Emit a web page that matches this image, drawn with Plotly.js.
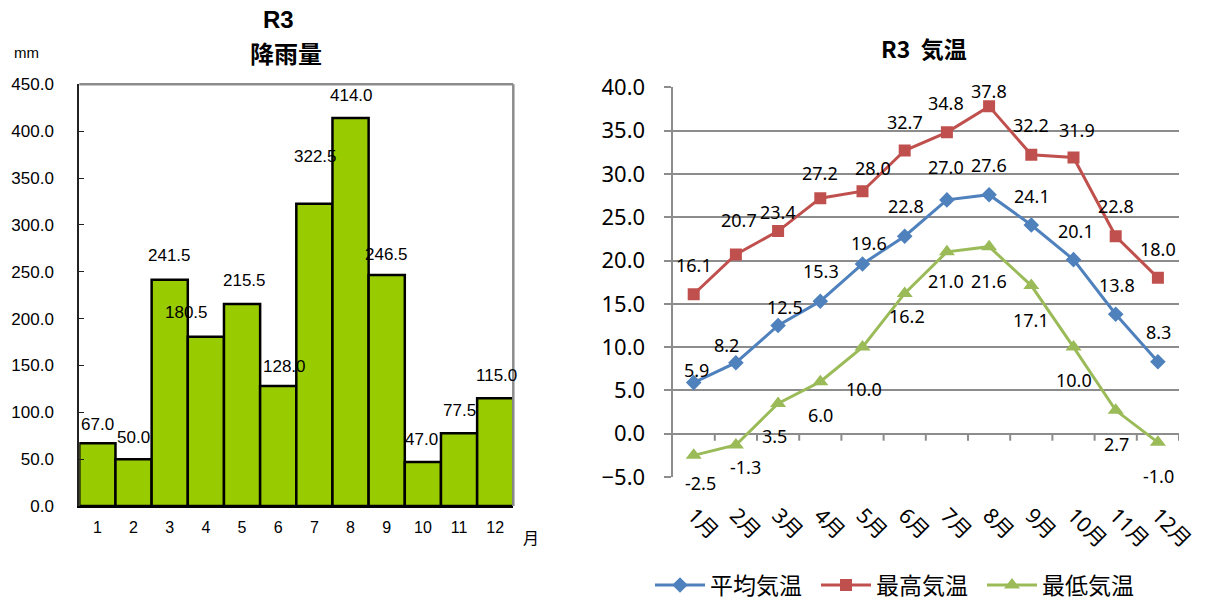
<!DOCTYPE html>
<html>
<head>
<meta charset="utf-8">
<script src="https://cdn.plot.ly/plotly-3.0.1.min.js"></script>
<style>
  html, body { margin: 0; padding: 0; background: #fff; }
  #chart { width: 1210px; height: 601px; }
</style>
</head>
<body>
<div id="chart"></div>
<script>
// ---------- data ----------
const rainMonths = ['1','2','3','4','5','6','7','8','9','10','11','12'];
const rainValues = [67.0, 50.0, 241.5, 180.5, 215.5, 128.0, 322.5, 414.0, 246.5, 47.0, 77.5, 115.0];

const tempMonths = ['1月','2月','3月','4月','5月','6月','7月','8月','9月','10月','11月','12月'];
const tempAvg = [5.9, 8.2, 12.5, 15.3, 19.6, 22.8, 27.0, 27.6, 24.1, 20.1, 13.8, 8.3];
const tempMax = [16.1, 20.7, 23.4, 27.2, 28.0, 32.7, 34.8, 37.8, 32.2, 31.9, 22.8, 18.0];
const tempMin = [-2.5, -1.3, 3.5, 6.0, 10.0, 16.2, 21.0, 21.6, 17.1, 10.0, 2.7, -1.0];

const seriesNames = ['平均気温', '最高気温', '最低気温'];

// ---------- label offsets (pixels) ----------
const rainLabelDx = [0, 0, 0, -19, 2, 6, 1, 1, 0, -1, 0, 1];
const rainLabelDy = [19, 22, 24, 24, 24, 20, 47, 23, 21, 22, 23, 23];
const avgDx = [3, -9, 7, 1, 6, 1, -1, 0, 1, 2, 1, 1];
const avgDy = [13, 18, 18, 30, 21, 30, 33, 30, 29, 29, 29, 30];
const maxDx = [0, 3, 0, 0, 10, 0, -1, 0, 0, 3, 0, 0];
const maxDy = [29, 34, 19, 25, 23, 29, 29, 15, 30, 27, 30, 29];
const minDx = [7, 10, -4, 0, 1, 2, -1, 0, 0, 0, 1, 1];
const minDy = [-28, -22, -33, -33, -42, -23, -29, -34, -34, -33, -34, -34];

// ---------- styles ----------
const W = 1210, H = 601;
const px = x => x / W;
const py = y => 1 - y / H;
const colAvg = '#4F81BD', colMax = '#C0504D', colMin = '#9BBB59';
const grid = '#8c8c8c';
const fLeft = 'Liberation Sans, Arial, sans-serif';
const fRight = 'Noto Sans, Noto Sans CJK JP, sans-serif';
const fCJK = 'Noto Sans CJK JP, sans-serif';

const traces = [
  {
    type: 'bar', x: rainMonths, y: rainValues, xaxis: 'x', yaxis: 'y',
    marker: { color: '#99CC00', line: { color: '#000', width: 2.5 } },
    showlegend: false, hoverinfo: 'skip'
  },
  {
    type: 'scatter', mode: 'lines+markers', name: seriesNames[0],
    x: tempMonths, y: tempAvg, xaxis: 'x2', yaxis: 'y2',
    line: { color: colAvg, width: 3 },
    marker: { symbol: 'diamond', size: 12, color: colAvg }
  },
  {
    type: 'scatter', mode: 'lines+markers', name: seriesNames[1],
    x: tempMonths, y: tempMax, xaxis: 'x2', yaxis: 'y2',
    line: { color: colMax, width: 3 },
    marker: { symbol: 'square', size: 12, color: colMax }
  },
  {
    type: 'scatter', mode: 'lines+markers', name: seriesNames[2],
    x: tempMonths, y: tempMin, xaxis: 'x2', yaxis: 'y2',
    line: { color: colMin, width: 3 },
    marker: { symbol: 'triangle-up', size: 14, color: colMin }
  }
];

const annotations = [];
rainValues.forEach((v, i) => {
  annotations.push({
    xref: 'x', yref: 'y', x: i, y: v,
    text: v.toFixed(1), showarrow: false,
    xshift: rainLabelDx[i], yshift: rainLabelDy[i], yanchor: 'middle',
    font: { family: fLeft, size: 17, color: '#000' }
  });
});
function tempLabels(vals, dx, dy) {
  vals.forEach((v, i) => {
    annotations.push({
      xref: 'x2', yref: 'y2', x: i, y: v,
      text: v.toFixed(1), showarrow: false,
      xshift: dx[i], yshift: dy[i], yanchor: 'middle',
      font: { family: fRight, size: 18, color: '#000' }
    });
  });
}
tempLabels(tempMax, maxDx, maxDy);
tempLabels(tempAvg, avgDx, avgDy);
tempLabels(tempMin, minDx, minDy);

// titles and unit labels
annotations.push(
  { xref: 'paper', yref: 'paper', x: px(278), y: py(20), text: '<b>R3</b>', showarrow: false,
    xanchor: 'center', yanchor: 'middle', font: { family: fLeft, size: 24, color: '#000' } },
  { xref: 'paper', yref: 'paper', x: px(286), y: py(52), text: '<b>降雨量</b>', showarrow: false,
    xanchor: 'center', yanchor: 'middle', font: { family: fCJK, size: 24, color: '#000' } },
  { xref: 'paper', yref: 'paper', x: px(26), y: py(52), text: 'mm', showarrow: false,
    xanchor: 'center', yanchor: 'middle', font: { family: fLeft, size: 15, color: '#000' } },
  { xref: 'paper', yref: 'paper', x: px(531), y: py(537), text: '月', showarrow: false,
    xanchor: 'center', yanchor: 'middle', font: { family: fCJK, size: 16, color: '#000' } },
  { xref: 'paper', yref: 'paper', x: px(924), y: py(48), text: '<b>R3\u00a0\u00a0気温</b>', showarrow: false,
    xanchor: 'center', yanchor: 'middle', font: { family: fCJK, size: 23, color: '#000' } }
);

// plot-area border (left chart) and category boundary ticks on the zero line (right chart)
const shapes = [
  { type: 'line', xref: 'x domain', yref: 'y domain', x0: 0, x1: 1, y0: 1, y1: 1,
    line: { color: grid, width: 2.5 } },
  { type: 'line', xref: 'x domain', yref: 'y domain', x0: 1, x1: 1, y0: 0, y1: 1,
    line: { color: grid, width: 2.5 } }
];
for (let i = 0; i < tempMonths.length; i++) {
  shapes.push({
    type: 'line', xref: 'x2', yref: 'y2', x0: i + 0.5, x1: i + 0.5,
    ysizemode: 'pixel', yanchor: 0, y0: 0, y1: -7,
    line: { color: grid, width: 2 }
  });
}

const layout = {
  width: W, height: H,
  margin: { l: 0, r: 0, t: 0, b: 0, autoexpand: false },
  paper_bgcolor: '#fff', plot_bgcolor: 'rgba(0,0,0,0)',
  bargap: 0,
  showlegend: true,
  legend: {
    orientation: 'h', x: px(650), y: py(585), xanchor: 'left', yanchor: 'middle',
    font: { family: fCJK, size: 23, color: '#000' }, itemwidth: 50,
    entrywidth: 101, entrywidthmode: 'pixels',
    bgcolor: 'rgba(0,0,0,0)'
  },
  xaxis: {
    domain: [px(79.3), px(513.3)], anchor: 'y', type: 'category',
    range: [-0.5, rainMonths.length - 0.5],
    showline: true, linecolor: '#000', linewidth: 2,
    ticks: '', showgrid: false, fixedrange: true,
    ticklabelstandoff: 6,
    tickfont: { family: fLeft, size: 16, color: '#000' }
  },
  yaxis: {
    domain: [py(506), py(84.3)], anchor: 'x', range: [0, 450], dtick: 50,
    tickformat: '.1f', showgrid: false, zeroline: false,
    showline: true, linecolor: '#222', linewidth: 2,
    ticks: 'inside', ticklen: 5, tickcolor: '#222', tickwidth: 1,
    ticklabelstandoff: 20,
    tickfont: { family: fLeft, size: 17, color: '#000' }
  },
  xaxis2: {
    domain: [px(672.6), px(1179)], anchor: 'y2', type: 'category',
    range: [-0.5, tempMonths.length - 0.5],
    showline: false, showgrid: false, ticks: '', tickangle: 45,
    ticklabelstandoff: 21,
    tickfont: { family: fRight, size: 21, color: '#000' }
  },
  yaxis2: {
    domain: [py(477), py(87.3)], anchor: 'x2', range: [-5, 40], dtick: 5,
    tickformat: '.1f', showgrid: true, gridcolor: grid, gridwidth: 2,
    zeroline: false, showline: true, linecolor: grid, linewidth: 2,
    ticks: 'outside', ticklen: 7, tickcolor: grid, tickwidth: 2,
    ticklabelstandoff: 14,
    tickfont: { family: fRight, size: 22, color: '#000' }
  },
  annotations: annotations,
  shapes: shapes
};

Plotly.newPlot('chart', traces, layout, { staticPlot: true, displayModeBar: false });
</script>
</body>
</html>
